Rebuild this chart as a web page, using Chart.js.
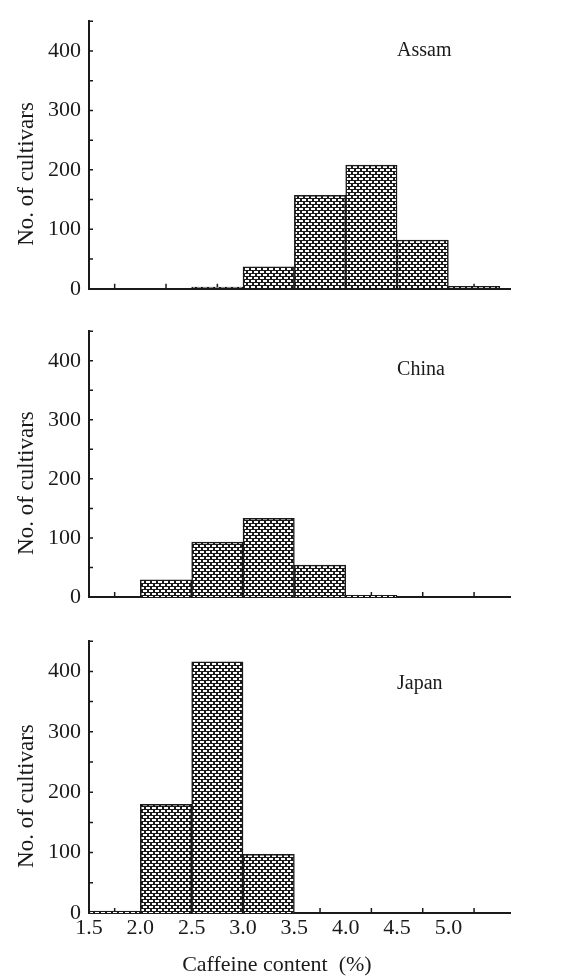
<!DOCTYPE html>
<html>
<head>
<meta charset="utf-8">
<style>
  body { margin: 0; background: #fff; }
  .panel { position: absolute; left: 0; width: 562px; }
</style>
</head>
<body>
<div class="panel" style="top:0;height:310px"><canvas id="assam"></canvas></div>
<div class="panel" style="top:310px;height:310px"><canvas id="china"></canvas></div>
<div class="panel" style="top:620px;height:357px"><canvas id="japan"></canvas></div>

<script src="https://cdn.jsdelivr.net/npm/chart.js@4.4.1/dist/chart.umd.min.js"></script>
<script>
// bins are 0.5 % wide, bars sit at the bin centres
const binCentres = [1.75, 2.25, 2.75, 3.25, 3.75, 4.25, 4.75, 5.25];
const xTickValues = [1.5, 2.0, 2.5, 3.0, 3.5, 4.0, 4.5, 5.0];

const assamCounts = [0, 0, 3, 37, 157, 208, 82, 4];
const chinaCounts = [0, 29, 93, 133, 54, 3, 0, 0];
const japanCounts = [3, 180, 416, 97, 0, 0, 0, 0];

const ink = '#1a1a1a';
const serif = "'Liberation Serif', 'Times New Roman', serif";

Chart.defaults.font.family = serif;
Chart.defaults.color = ink;

// brick-like hatch used for all bars
function brickPattern() {
  const tile = document.createElement('canvas');
  tile.width = 6;
  tile.height = 6;
  const c = tile.getContext('2d');
  c.fillStyle = '#fff';
  c.fillRect(0, 0, 6, 6);
  c.fillStyle = ink;
  c.fillRect(0, 0, 6, 1);
  c.fillRect(0, 1, 2, 2);
  c.fillRect(0, 3, 6, 1);
  c.fillRect(3, 4, 2, 2);
  return c.createPattern(tile, 'repeat');
}
const hatch = brickPattern();

const decor = {
  id: 'decor',
  beforeDatasetsDraw(chart) {
    const { ctx, chartArea: a, scales: { x, y } } = chart;
    ctx.save();
    ctx.strokeStyle = ink;
    ctx.lineWidth = 1.5;
    ctx.beginPath();
    binCentres.forEach(v => {
      const px = x.getPixelForValue(v);
      ctx.moveTo(px, a.bottom);
      ctx.lineTo(px, a.bottom - 5);
    });
    y.ticks.forEach(t => {
      const py = y.getPixelForValue(t.value);
      ctx.moveTo(a.left, py);
      ctx.lineTo(a.left + 4, py);
    });
    ctx.stroke();
    ctx.restore();
  },
  afterDraw(chart, args, opts) {
    const { ctx, chartArea: a, scales: { x, y } } = chart;
    ctx.save();
    ctx.fillStyle = ink;
    ctx.font = '20px ' + serif;
    ctx.textAlign = 'left';
    ctx.textBaseline = 'middle';
    ctx.fillText(opts.name, x.getPixelForValue(4.5), y.getPixelForValue(opts.labelAt));

    if (opts.xTitle) {
      ctx.font = '22px ' + serif;
      ctx.textAlign = 'center';
      ctx.fillText(opts.xTitle, x.getPixelForValue(3.33), chart.height - 12);
    }

    ctx.font = '23px ' + serif;
    ctx.translate(27, (a.top + a.bottom) / 2 + 19);
    ctx.rotate(-Math.PI / 2);
    ctx.textAlign = 'center';
    ctx.fillText('No. of cultivars', 0, 0);
    ctx.restore();
  }
};

function makePanel(id, name, counts, cfg) {
  return new Chart(document.getElementById(id), {
    type: 'bar',
    data: {
      datasets: [{
        data: binCentres.map((c, i) => ({ x: c, y: counts[i] })),
        backgroundColor: hatch,
        borderColor: ink,
        borderWidth: 1.5,
        barPercentage: 1,
        categoryPercentage: 1
      }]
    },
    plugins: [decor],
    options: {
      responsive: true,
      maintainAspectRatio: false,
      animation: false,
      layout: { padding: { top: cfg.top, right: 52, left: 0, bottom: 0 } },
      plugins: {
        legend: { display: false },
        tooltip: { enabled: false },
        decor: { name: name, labelAt: cfg.labelAt, xTitle: cfg.xTitle }
      },
      scales: {
        x: {
          type: 'linear',
          offset: false,
          min: 1.5,
          max: 5.6,
          afterBuildTicks: s => { s.ticks = xTickValues.map(v => ({ value: v })); },
          afterFit: s => { s.height = cfg.axisHeight; },
          grid: { display: false, drawTicks: false, offset: false },
          border: { color: ink, width: 2 },
          ticks: {
            display: cfg.showX,
            autoSkip: false,
            maxRotation: 0,
            padding: 2,
            font: { size: 22 },
            callback: v => Number(v).toFixed(1)
          }
        },
        y: {
          min: 0,
          max: 450,
          afterFit: s => { s.width = 89; },
          grid: { display: false, drawTicks: false },
          border: { color: ink, width: 2 },
          ticks: {
            stepSize: 50,
            autoSkip: false,
            padding: 8,
            font: { size: 22 },
            callback: v => (v % 100 === 0 ? v : '')
          }
        }
      }
    }
  });
}

makePanel('assam', 'Assam', assamCounts, { top: 10, axisHeight: 18, labelAt: 400, showX: false });
makePanel('china', 'China', chinaCounts, { top: 13, axisHeight: 23, labelAt: 385, showX: false });
makePanel('japan', 'Japan', japanCounts, { top: 16, axisHeight: 64, labelAt: 380, showX: true,
  xTitle: 'Caffeine content  (%)' });
</script>
</body>
</html>
